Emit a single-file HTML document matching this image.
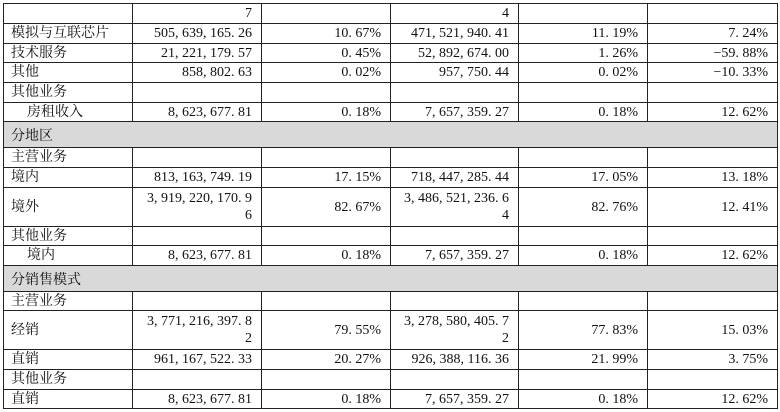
<!DOCTYPE html>
<html><head><meta charset="utf-8">
<style>
html,body{margin:0;padding:0;background:#fff;}
body{width:780px;height:412px;position:relative;overflow:hidden;font-family:"Liberation Serif","Noto Serif CJK SC",serif;font-size:14px;color:#111;}
.r{position:absolute;left:3px;width:775px;display:flex;box-sizing:border-box;border-top:1px solid #222;}
.c{box-sizing:border-box;border-right:1px solid #222;display:flex;align-items:center;justify-content:flex-end;padding-right:9px;line-height:17px;white-space:nowrap;text-align:right;}
.c1{width:130px;border-left:1px solid #222;justify-content:flex-start;padding-left:7px;padding-right:0;}
.c2{width:129px}.c3{width:129px}.c4{width:128px}.c5{width:129px}.c6{width:130px}
.in{padding-left:23px;}
.g{width:775px;border-left:1px solid #222;border-right:1px solid #222;background:#d9d9d9;box-sizing:border-box;display:flex;align-items:center;padding-left:7px;}
.last{border-bottom:1px solid #222;}
</style></head><body>

<div class="r" style="top:3px;height:20px"><div class="c c1"></div><div class="c c2">7</div><div class="c c3"></div><div class="c c4">4</div><div class="c c5"></div><div class="c c6"></div></div>
<div class="r" style="top:23px;height:20px"><div class="c c1">模拟与互联芯片</div><div class="c c2">505, 639, 165. 26</div><div class="c c3">10. 67%</div><div class="c c4">471, 521, 940. 41</div><div class="c c5">11. 19%</div><div class="c c6">7. 24%</div></div>
<div class="r" style="top:43px;height:19px"><div class="c c1">技术服务</div><div class="c c2">21, 221, 179. 57</div><div class="c c3">0. 45%</div><div class="c c4">52, 892, 674. 00</div><div class="c c5">1. 26%</div><div class="c c6">−59. 88%</div></div>
<div class="r" style="top:62px;height:20px"><div class="c c1">其他</div><div class="c c2">858, 802. 63</div><div class="c c3">0. 02%</div><div class="c c4">957, 750. 44</div><div class="c c5">0. 02%</div><div class="c c6">−10. 33%</div></div>
<div class="r" style="top:82px;height:20px"><div class="c c1">其他业务</div><div class="c c2"></div><div class="c c3"></div><div class="c c4"></div><div class="c c5"></div><div class="c c6"></div></div>
<div class="r" style="top:102px;height:19px"><div class="c c1 in">房租收入</div><div class="c c2">8, 623, 677. 81</div><div class="c c3">0. 18%</div><div class="c c4">7, 657, 359. 27</div><div class="c c5">0. 18%</div><div class="c c6">12. 62%</div></div>
<div class="r" style="top:121px;height:26px"><div class="g">分地区</div></div>
<div class="r" style="top:147px;height:20px"><div class="c c1">主营业务</div><div class="c c2"></div><div class="c c3"></div><div class="c c4"></div><div class="c c5"></div><div class="c c6"></div></div>
<div class="r" style="top:167px;height:20px"><div class="c c1">境内</div><div class="c c2">813, 163, 749. 19</div><div class="c c3">17. 15%</div><div class="c c4">718, 447, 285. 44</div><div class="c c5">17. 05%</div><div class="c c6">13. 18%</div></div>
<div class="r" style="top:187px;height:39px"><div class="c c1">境外</div><div class="c c2">3, 919, 220, 170. 9<br>6</div><div class="c c3">82. 67%</div><div class="c c4">3, 486, 521, 236. 6<br>4</div><div class="c c5">82. 76%</div><div class="c c6">12. 41%</div></div>
<div class="r" style="top:226px;height:19px"><div class="c c1">其他业务</div><div class="c c2"></div><div class="c c3"></div><div class="c c4"></div><div class="c c5"></div><div class="c c6"></div></div>
<div class="r" style="top:245px;height:20px"><div class="c c1 in">境内</div><div class="c c2">8, 623, 677. 81</div><div class="c c3">0. 18%</div><div class="c c4">7, 657, 359. 27</div><div class="c c5">0. 18%</div><div class="c c6">12. 62%</div></div>
<div class="r" style="top:265px;height:26px"><div class="g">分销售模式</div></div>
<div class="r" style="top:291px;height:19px"><div class="c c1">主营业务</div><div class="c c2"></div><div class="c c3"></div><div class="c c4"></div><div class="c c5"></div><div class="c c6"></div></div>
<div class="r" style="top:310px;height:39px"><div class="c c1">经销</div><div class="c c2">3, 771, 216, 397. 8<br>2</div><div class="c c3">79. 55%</div><div class="c c4">3, 278, 580, 405. 7<br>2</div><div class="c c5">77. 83%</div><div class="c c6">15. 03%</div></div>
<div class="r" style="top:349px;height:20px"><div class="c c1">直销</div><div class="c c2">961, 167, 522. 33</div><div class="c c3">20. 27%</div><div class="c c4">926, 388, 116. 36</div><div class="c c5">21. 99%</div><div class="c c6">3. 75%</div></div>
<div class="r" style="top:369px;height:20px"><div class="c c1">其他业务</div><div class="c c2"></div><div class="c c3"></div><div class="c c4"></div><div class="c c5"></div><div class="c c6"></div></div>
<div class="r last" style="top:389px;height:20px"><div class="c c1">直销</div><div class="c c2">8, 623, 677. 81</div><div class="c c3">0. 18%</div><div class="c c4">7, 657, 359. 27</div><div class="c c5">0. 18%</div><div class="c c6">12. 62%</div></div>

</body></html>
